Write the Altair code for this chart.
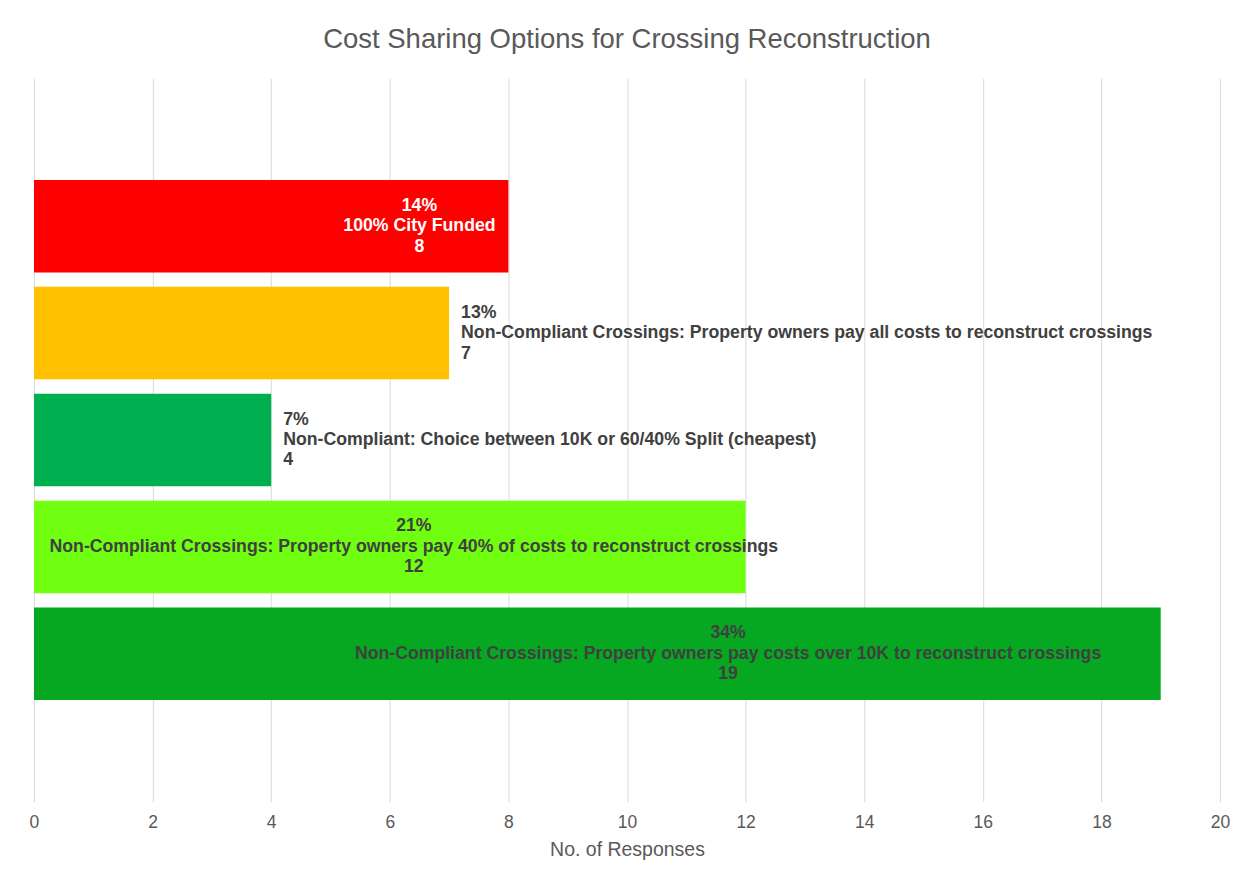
import altair as alt
import pandas as pd

categories = [
    "100% City Funded",
    "Non-Compliant Crossings: Property owners pay all costs to reconstruct crossings",
    "Non-Compliant: Choice between 10K or 60/40% Split (cheapest)",
    "Non-Compliant Crossings: Property owners pay 40% of costs to reconstruct crossings",
    "Non-Compliant Crossings: Property owners pay costs over 10K to reconstruct crossings",
]
responses = [8, 7, 4, 12, 19]
percents = ["14%", "13%", "7%", "21%", "34%"]
colors = ["#FF0000", "#FFC000", "#00B050", "#70FF10", "#06A821"]

df = pd.DataFrame({
    "cat": categories,
    "n": responses,
    "pct": percents,
    "color": colors,
})
df["label"] = df["pct"] + "\n" + df["cat"] + "\n" + df["n"].astype(str)

FONT = "Liberation Sans"
LH = 20.5

y_enc = alt.Y("cat:N", sort=categories, axis=None,
              scale=alt.Scale(paddingInner=0.135, paddingOuter=0.95))

base = alt.Chart(df)

bars = base.mark_bar().encode(
    x=alt.X("n:Q", title="No. of Responses",
            scale=alt.Scale(domain=[0, 20]),
            axis=alt.Axis(values=list(range(0, 21, 2)), format="d", grid=True,
                          domain=False, ticks=False, labelFlush=False,
                          labelPadding=12, titlePadding=9,
                          labelFontSize=17.5, titleFontSize=19.5,
                          labelColor="#595959", titleColor="#595959",
                          labelFont=FONT, titleFont=FONT, titleFontWeight="normal",
                          gridColor="#d9d9d9", gridWidth=1)),
    y=y_enc,
    color=alt.Color("color:N", scale=None),
)

text_specs = [
    (0, "center", -89, "#FFFFFF"),
    (1, "left", 12, "#404040"),
    (2, "left", 12, "#404040"),
    (3, "center", -332, "#404040"),
    (4, "center", -433, "#404040"),
]

layers = [bars]
for idx, align, dx, col in text_specs:
    t = alt.Chart(df.iloc[[idx]]).mark_text(
        align=align, baseline="middle", dx=dx, dy=-LH, lineBreak="\n", lineHeight=LH,
        font=FONT, fontSize=17.7, fontWeight="bold", color=col,
    ).encode(
        x="n:Q",
        y=alt.Y("cat:N", sort=categories, axis=None),
        text="label:N",
    )
    layers.append(t)

chart = alt.layer(*layers).properties(
    width=1187,
    height=724,
    background="white",
    title=alt.TitleParams("Cost Sharing Options for Crossing Reconstruction",
                          fontSize=27.5, font=FONT, fontWeight="normal",
                          color="#595959", anchor="middle", offset=25),
    autosize=alt.AutoSizeParams(type="none"),
    padding={"left": 26, "top": 70, "right": 20, "bottom": 70},
).configure_view(stroke=None, strokeWidth=0)

chart.save("out.html", embed_options={"renderer": "svg", "actions": False})
